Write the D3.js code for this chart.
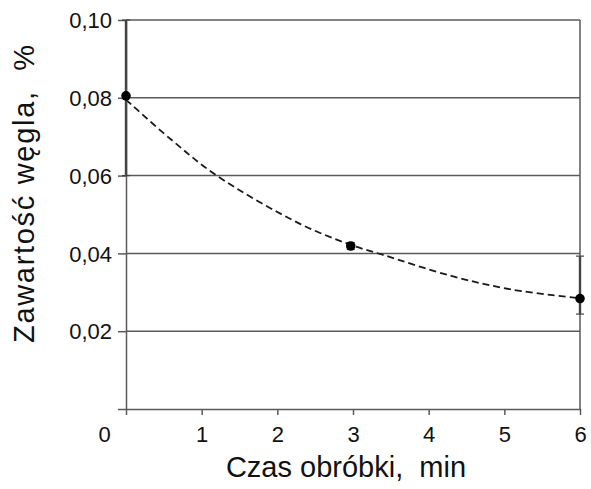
<!DOCTYPE html>
<html>
<head>
<meta charset="utf-8">
<script src="https://cdn.jsdelivr.net/npm/d3@7"></script>
<style>
  body { margin: 0; background: #fff; }
  text { font-family: "Liberation Sans", Arial, sans-serif; fill: #111; }
</style>
</head>
<body>
<svg id="chart" width="591" height="489"></svg>
<script>
// dane pomiarowe
const times = [0, 2.97, 6];
const carbon = [0.0805, 0.0419, 0.0284];
const errLow = [0.060, 0.0410, 0.0244];
const errHigh = [0.100, 0.0428, 0.0393];

// linia trendu
const trendX = [0, 0.6, 1.2, 2.3, 3.0, 3.4, 4.3, 5.1, 6.0];
const trendY = [0.0795, 0.0692, 0.0600, 0.0476, 0.0420, 0.0396, 0.0342, 0.0307, 0.0285];

const xTicks = [0, 1, 2, 3, 4, 5, 6];
const yTicks = [0, 0.02, 0.04, 0.06, 0.08, 0.10];

const svg = d3.select("#chart");
const x = d3.scaleLinear().domain([0, 6]).range([126, 580]);
const y = d3.scaleLinear().domain([0, 0.1]).range([409, 20]);
const fmt = d => d3.format(".2f")(d).replace(".", ",");

// siatka
svg.append("g")
  .selectAll("line")
  .data(yTicks.filter(d => d > 0))
  .enter().append("line")
  .attr("x1", x(0)).attr("x2", x(6))
  .attr("y1", d => y(d)).attr("y2", d => y(d))
  .attr("stroke", "#5a5a5a").attr("stroke-width", 1.5);

// ramka z prawej
svg.append("line")
  .attr("x1", x(6)).attr("x2", x(6))
  .attr("y1", y(0)).attr("y2", y(0.1))
  .attr("stroke", "#5a5a5a").attr("stroke-width", 1.5);

// osie
const xAxis = svg.append("g")
  .attr("transform", `translate(0,${y(0)})`)
  .call(d3.axisBottom(x).tickValues(xTicks).tickSize(6).tickSizeOuter(0).tickFormat(d3.format("d")));
xAxis.selectAll("text").attr("font-size", 22).attr("dy", 0).attr("y", 33);
xAxis.selectAll("text").filter(d => d === 0).attr("x", -22);

const yAxis = svg.append("g")
  .attr("transform", `translate(${x(0)},0)`)
  .call(d3.axisLeft(y).tickValues(yTicks).tickSize(8).tickSizeOuter(0).tickFormat(d => d === 0 ? "" : fmt(d)));
yAxis.selectAll("text").attr("font-size", 22).attr("x", -14).attr("dy", "0.35em");

svg.selectAll(".domain, .tick line").attr("stroke", "#5a5a5a").attr("stroke-width", 1.5);

// linia trendu
svg.append("path")
  .datum(trendX.map((d, i) => [d, trendY[i]]))
  .attr("d", d3.line().x(d => x(d[0])).y(d => y(d[1])).curve(d3.curveCatmullRom))
  .attr("fill", "none")
  .attr("stroke", "#1a1a1a")
  .attr("stroke-width", 1.8)
  .attr("stroke-dasharray", "7,4");

// słupki błędów
const eb = svg.append("g").attr("stroke", "#444").attr("stroke-width", 2.4);
times.forEach((t, i) => {
  eb.append("line")
    .attr("x1", x(t)).attr("x2", x(t))
    .attr("y1", y(errLow[i])).attr("y2", y(errHigh[i]));
  [errLow[i], errHigh[i]].forEach(v => {
    eb.append("line")
      .attr("x1", x(t) - 4).attr("x2", x(t) + 4)
      .attr("y1", y(v)).attr("y2", y(v))
      .attr("stroke-width", 1.2);
  });
});

// punkty
svg.append("g")
  .selectAll("circle")
  .data(times)
  .enter().append("circle")
  .attr("cx", d => x(d))
  .attr("cy", (d, i) => y(carbon[i]))
  .attr("r", 4.8)
  .attr("fill", "#000");

// tytuły osi
svg.append("text")
  .attr("x", 346).attr("y", 477)
  .attr("text-anchor", "middle")
  .attr("font-size", 29)
  .attr("xml:space", "preserve")
  .text("Czas obróbki,  min");

svg.append("text")
  .attr("transform", "translate(34,194) rotate(-90)")
  .attr("text-anchor", "middle")
  .attr("font-size", 29)
  .attr("textLength", 298)
  .attr("xml:space", "preserve")
  .text("Zawartość węgla,  %");
</script>
</body>
</html>
